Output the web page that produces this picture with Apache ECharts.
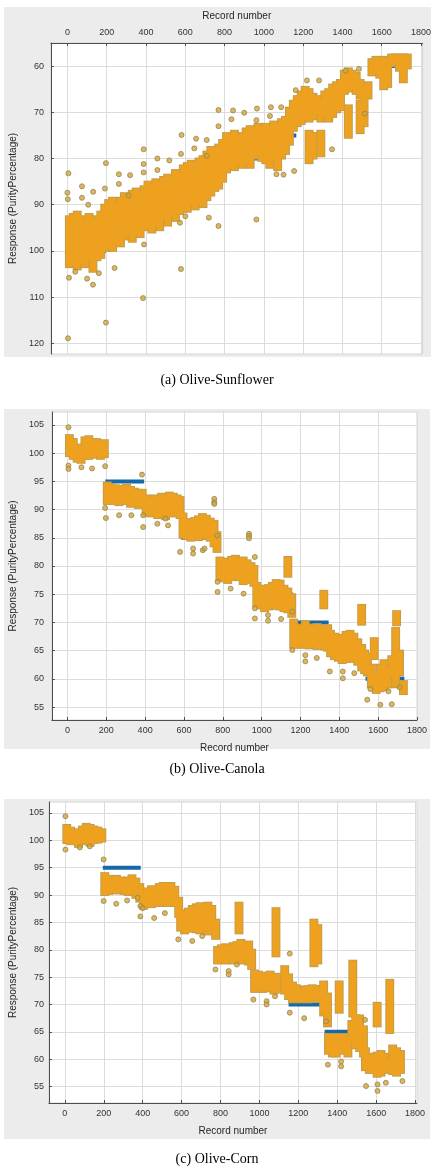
<!DOCTYPE html>
<html>
<head>
<meta charset="utf-8">
<script src="https://cdn.jsdelivr.net/npm/echarts@6/dist/echarts.min.js"></script>
<style>
  html, body { margin: 0; padding: 0; background: #ffffff; }
  #wrap { position: relative; width: 434px; height: 1172px; }
  .panel { position: absolute; background: #ececec; }
  #chart { position: absolute; left: 0; top: 0; width: 434px; height: 1172px; }
</style>
</head>
<body>
<div id="wrap">
  <div class="panel" style="left:4px;top:7px;width:427px;height:350px;"></div>
  <div class="panel" style="left:4px;top:409px;width:426px;height:340px;"></div>
  <div class="panel" style="left:4px;top:799px;width:426px;height:340px;"></div>
  <div id="chart"></div>
</div>
<script>
// ---------------- DATA ----------------
const xTicks = [0, 200, 400, 600, 800, 1000, 1200, 1400, 1600, 1800];
const yTicksA = [60, 70, 80, 90, 100, 110, 120];
const yTicksBC = [55, 60, 65, 70, 75, 80, 85, 90, 95, 100, 105];
const captions = ['(a) Olive-Sunflower', '(b) Olive-Canola', '(c) Olive-Corn'];
const xName = 'Record number';
const yName = 'Response (PurityPercentage)';

// target (blue) segments: [startRecord, endRecord, value]
const sfTarget = [[0,195,100],[195,390,95],[390,585,90],[585,780,85],[780,975,80],[975,1165,75],[1165,1345,70],[1345,1530,65],[1530,1735,60]];
const caTarget = [[0,195,100],[195,395,95],[395,585,90],[585,780,85],[780,965,80],[965,1160,75],[1160,1345,70],[1345,1535,65],[1535,1735,60]];
const coTarget = [[0,195,100],[195,390,95],[390,580,90],[580,770,85],[770,960,80],[960,1150,75],[1150,1335,70],[1335,1535,65],[1535,1735,60]];

// dense response cloud per 20-record bin: [record, low, high]
const sfBand = [
 [10,92.5,103.5],[30,92,103],[50,91.5,104],[70,92.5,102.5],[90,93,103.5],[110,92,102],[130,93,104.5],[150,92.5,102],[170,91.5,101.5],[190,90,100],
 [210,89,99.5],[230,88.5,100],[250,90,98.5],[270,88.5,99],[290,87.5,97.5],[310,88,96.5],[330,87,98],[350,86.5,96.5],[370,87.5,97],[390,86,95.5],
 [410,85,95],[430,85.5,96],[450,84.5,94.5],[470,85,95.5],[490,84,93],[510,83.5,94.5],[530,84,92.5],[550,82.5,93.5],[570,83,92],[590,81.5,91.5],
 [610,81,91.5],[630,80.5,90],[650,81,91],[670,80,89.5],[690,79.5,90.5],[710,78.5,89],[730,77.5,88],[750,78,87],[770,77,86.5],[790,76,85],
 [810,74.5,83],[830,75,82],[850,74,82.5],[870,75,81.5],[890,74.5,82],[910,73.5,81],[930,73,82],[950,73.5,80],[970,72.5,79.5],[990,73,80.5],
 [1010,72.5,81],[1030,73,82],[1050,72,80.5],[1070,72.5,82.5],[1090,71.5,80],[1110,71,79],[1130,69,77],[1150,67.5,74],[1170,66.5,73],[1190,65.5,72.5],
 [1210,64.5,71.5],[1230,65,72],[1230,74,81],[1250,66,71.5],[1250,74.5,80],[1270,66.5,70.5],[1290,67,72],[1290,74,79.5],[1310,65.5,71],[1330,65,72],[1350,64,71],[1370,63.5,70],[1390,63,69.5],
 [1410,61,66],[1430,60.5,65.5],[1430,68.5,75.5],[1450,61,65],[1470,61.5,66],[1490,63,67],[1490,67.5,74.5],[1510,64,73],[1530,63.5,67],
 [1550,58.5,62],[1570,58,61.5],[1590,58.5,62.5],[1610,58,65],[1630,58.5,64.5],[1650,57.5,60],[1670,57.5,59.5],[1690,57.5,61],[1710,57.5,63.5],[1730,57.5,60.5]
];
const sfDots = [
 [3,118.9],[196,115.5],[385,110.2],[578,103.9],[962,93.2],[5,83.2],[0,87.4],[2,88.8],[74,86],[74,88.5],[131,87.2],[196,81],[191,86.5],[106,90],
 [8,105.8],[130,107.3],[100,106],[240,103.7],[262,83.4],[319,83.6],[388,78],[388,81.2],[388,83],[262,85.5],[311,88],[458,80],[519,80.4],[458,82.5],
 [581,74.9],[578,79],[573,93.9],[655,75.7],[709,76],[646,77.8],[709,79.4],[769,94.6],[769,69.5],[843,69.6],[900,70.1],[965,69.2],[962,71.7],[835,71.5],
 [769,73],[1036,68.9],[1088,68.9],[1031,70.8],[1162,65.2],[1219,63.1],[1281,63.1],[1347,78],[1416,61],[1484,60.6],[1514,70.3],[1064,83.4],[1154,82.7],
 [390,98.6],[600,92.5],[720,92.8],[1100,83.5],[40,104.5],[160,104.8]
];

const caBand = [
 [10,99.5,103.2],[30,99,102.5],[50,98.5,101.5],[70,98.3,101.5],[90,99,102.8],[110,99,103],[130,99.2,102.5],[150,99.5,102.5],[170,99,102],[190,99.3,102.3],
 [205,91,94.8],[225,91.2,94.5],[245,91,94.3],[265,90.8,94.2],[285,91.2,94.2],[305,91,94.4],[325,90.5,94],[345,90.8,93.7],[365,90.3,93.5],[385,90.5,93.5],
 [405,89,92.5],[425,88.8,92],[445,89,92.5],[465,88.5,92.2],[485,89,92.8],[505,88.3,92.3],[525,89,93],[545,88.8,92.8],[565,89,92.5],[580,88.5,92.2],
 [595,85,89.3],[615,84.8,88.3],[635,84.5,88],[655,84.7,88.5],[675,84.6,88.8],[695,85,89.2],[715,84.8,88.9],[735,84.5,88.4],[755,83.5,88],[770,82.5,86],
 [785,77.5,81.5],[805,77.3,81.3],[825,77,81],[845,77.5,81.6],[865,77.8,81.8],[885,77.5,81.3],[905,76.8,81.5],[925,77,81],[945,77.2,80.5],[960,76.5,80],
 [975,72.8,77],[995,72.5,76.5],[1015,72,76.3],[1035,72.3,76.6],[1055,72.5,77],[1075,72.4,77.5],[1095,72.3,77.4],[1115,72,76.5],[1135,71.8,76],[1135,78.1,81.6],[1155,71,75],
 [1165,65.5,70.5],[1185,65.8,69.6],[1205,65.5,69.5],[1225,65.6,70.2],[1245,65.4,69.6],[1265,65.8,69.5],[1285,65.3,69.7],[1305,65.6,69.5],[1325,65.2,69.3],[1320,72.5,75.6],[1340,65,69.5],
 [1355,64,68.5],[1375,63.5,68],[1395,63.2,67.5],[1415,62.8,67.8],[1435,63,68.3],[1455,63,68.5],[1475,63.3,68],[1495,62.5,67],[1515,61.5,66],[1515,69.6,73.1],[1530,61,65],
 [1545,60.6,64.5],[1565,58.5,62.5],[1580,63.5,67.2],[1590,57.5,61],[1610,57.8,62.5],[1630,58,63.3],[1650,58.5,62],[1670,60.5,64],[1690,58.5,69],[1695,69.5,72],[1710,60.6,65],[1730,57.3,59.6]
];
const caDots = [
 [5,104.6],[5,97.8],[5,97.2],[72,97.5],[127,97.3],[194,97.7],
 [194,90.3],[198,88.5],[266,89],[329,89],[390,89],[390,86.9],[384,96.2],
 [463,87.5],[518,87.2],[505,88.4],[580,82.5],[647,83.1],[647,82.2],[697,82.8],[706,83.1],[756,91.9],[756,91.3],[756,91],[771,85.4],
 [773,77.2],[773,75.4],[840,76],[907,75.1],[935,85.7],[935,85.3],[935,84.9],[965,81.6],
 [965,72.5],[965,70.7],[1033,71.3],[1033,70.3],[1100,70.6],[1158,71.9],
 [1158,65.1],[1225,64.2],[1225,63.1],[1284,63.7],[1351,61.3],
 [1418,61.3],[1418,60.1],[1477,61],[1544,56.3],[1611,55.4],[1670,55.5],[1653,57.8],[1710,58.5],[1560,58.2]
];

const coBand = [
 [10,99.5,102.8],[30,99.3,102.3],[50,99.5,101.8],[70,98.8,102],[90,99.5,102.5],[110,99.3,103],[130,99,102.8],[150,99.5,102.5],[170,99.6,102.3],[190,99.8,102],
 [205,90,94],[225,90.2,93.5],[245,90.5,93.3],[265,90.3,93.5],[285,90.5,93.2],[305,90.2,93],[325,90,93.2],[345,90.5,93.6],[365,89.5,93],[385,88.8,92],
 [405,87.5,91],[425,88,91.2],[445,87.8,91.6],[465,88.2,91.5],[485,88,92],[505,88.3,92.2],[525,88,92],[545,88.5,92.2],[565,88,91.5],[585,86,89.5],
 [595,83.5,87.2],[615,83,87],[635,83.3,87.5],[655,83.5,88],[675,83.2,88.3],[695,83,88.5],[715,83.5,88.3],[735,82.8,88.6],[755,83,88],[775,82,85.5],
 [785,77.5,80.5],[805,77.7,80.8],[825,77.5,81],[845,78,80.7],[865,77.5,81.2],[885,77.8,81.4],[895,83,88.6],[905,77.5,81.8],[925,78,81.3],[945,77.3,81.5],[960,76.5,80],
 [975,72.3,76.2],[995,72.5,76],[1015,72.3,75.7],[1035,72.4,75.8],[1055,72.5,76],[1075,72,75.5],[1085,78.8,87.6],[1090,72.2,75.6],
 [1130,72,77],[1150,71,75.5],[1170,70.4,74],[1190,70.5,73.5],[1210,70.4,72.8],[1230,70.5,73.3],[1250,70.4,73.3],[1270,70.6,73.5],[1280,77,85.5],[1290,70.5,73.4],[1300,77.5,84.5],[1310,70.5,73],[1330,68,74.2],[1350,66,72],
 [1355,61,64.6],[1375,60.5,64.5],[1395,60.5,64.6],[1410,68.5,74.2],[1415,61,64.5],[1435,61.3,64.6],[1455,60.5,64],[1475,63,67],[1480,67.8,78],[1495,62,68],[1515,61.5,68],[1535,60.5,66],
 [1545,58,62],[1565,57.5,61],[1585,57.5,60.8],[1605,56.8,61.2],[1605,66,70.3],[1625,57,61.5],[1645,57.8,61],[1665,57.5,60],[1670,64.8,74.5],[1685,57.3,62.5],[1705,57,62],[1725,57.5,61.5]
];
const coDots = [
 [3,104.4],[3,98.3],[77,98.7],[128,98.9],
 [199,96.5],[199,88.9],[264,88.4],[320,89],[374,89.5],[388,88],[388,86.1],
 [400,87.6],[459,85.8],[514,86.7],
 [583,81.9],[655,81.6],[706,82.5],
 [774,76.4],[842,76.1],[842,75.5],[884,77.3],
 [969,70.9],[1037,70.6],[1037,70],[1080,71.5],[1156,79.3],
 [1156,68.5],[1230,67.5],[1343,66.9],
 [1352,59],[1420,59.6],[1420,58.7],[1543,67.2],
 [1548,55.1],[1607,55.4],[1607,54.2],[1650,55.7],[1735,56]
];

// ---------------- HELPERS ----------------
const BIN = 20;
const ORANGE = '#EEA11F';
const EDGE = '#C29D4C';
const BLUE = '#1569A8';
const FONT = 'Liberation Sans';

function targetLine(segs) {
  const out = [];
  segs.forEach(s => { out.push([s[0], s[2]], [s[1], s[2]], [s[1], '-']); });
  return out;
}
function bandRender(pad, fill) {
  return function (params, api) {
    const x = api.value(0), lo = api.value(1), hi = api.value(2);
    const a = api.coord([x, lo]), b = api.coord([x, hi]);
    const w = api.size([BIN, 0])[0] + 3;
    const top = Math.min(a[1], b[1]), h = Math.abs(a[1] - b[1]);
    return {
      type: 'rect',
      shape: { x: a[0] - w / 2 - pad, y: top - pad, width: w + 2 * pad, height: h + 2 * pad },
      style: { fill: fill }
    };
  };
}
const plain = v => String(v);

const grids = [
  { left: 40, top: 43, width: 385, height: 311 },
  { left: 42, top: 412, width: 375, height: 308 },
  { left: 46, top: 802, width: 371, height: 301 }
];
const xr = [[-84, 1808], [-80, 1800], [-82, 1810]];
const yr = [[55, 122.3], [52.7, 107.3], [52, 107]];
const yTickSets = [yTicksA, yTicksBC, yTicksBC];
const yGaps = [[7, 27], [8, 28], [5, 26]];

const xAxes = [], yAxes = [];
for (let i = 0; i < 3; i++) {
  xAxes.push({
    type: 'value', gridIndex: i, min: xr[i][0], max: xr[i][1],
    position: i === 0 ? 'top' : 'bottom',
    name: xName, nameLocation: 'middle', nameGap: i === 0 ? 22 : 23,
    nameTextStyle: { fontFamily: FONT, fontSize: 10, color: '#262626' },
    axisLine: { show: true, onZero: false, lineStyle: { color: '#4d4d4d', width: 1 } },
    axisTick: { show: true, inside: true, length: 3, customValues: xTicks, lineStyle: { color: '#4d4d4d' } },
    axisLabel: { customValues: xTicks, formatter: plain, fontFamily: FONT, fontSize: 9, color: '#333', margin: 6 },
    splitLine: { show: true, lineStyle: { color: '#dcdcdc', width: 1 } }
  });
  yAxes.push({
    type: 'value', gridIndex: i, min: yr[i][0], max: yr[i][1], inverse: i === 0,
    name: yName, nameLocation: 'middle', nameGap: yGaps[i][1], nameRotate: 90,
    nameTextStyle: { fontFamily: FONT, fontSize: 10, color: '#262626' },
    axisLine: { show: true, onZero: false, lineStyle: { color: '#4d4d4d', width: 1 } },
    axisTick: { show: true, inside: true, length: 3, customValues: yTickSets[i], lineStyle: { color: '#4d4d4d' } },
    axisLabel: { customValues: yTickSets[i], formatter: plain, fontFamily: FONT, fontSize: 9, color: '#333', margin: yGaps[i][0] },
    splitLine: { show: true, lineStyle: { color: '#dcdcdc', width: 1 } }
  });
}

const sets = [[sfTarget, sfBand, sfDots], [caTarget, caBand, caDots], [coTarget, coBand, coDots]];
const series = [];
sets.forEach((s, i) => {
  series.push({
    type: 'line', xAxisIndex: i, yAxisIndex: i, data: targetLine(s[0]), showSymbol: false,
    lineStyle: { color: BLUE, width: 4 }, connectNulls: false, z: 2
  });
  series.push({
    type: 'custom', xAxisIndex: i, yAxisIndex: i, data: s[1], renderItem: bandRender(1, EDGE),
    encode: { x: 0, y: [1, 2] }, clip: true, z: 3
  });
  series.push({
    type: 'custom', xAxisIndex: i, yAxisIndex: i, data: s[1], renderItem: bandRender(0, ORANGE),
    encode: { x: 0, y: [1, 2] }, clip: true, z: 4
  });
  series.push({
    type: 'scatter', xAxisIndex: i, yAxisIndex: i, data: s[2], symbol: 'circle', symbolSize: 5,
    itemStyle: { color: '#D9A232', borderColor: '#8E8757', borderWidth: 1 }, z: 5
  });
});

const capTops = [373, 762, 1152];
const chart = echarts.init(document.getElementById('chart'), null, { renderer: 'canvas' });
chart.setOption({
  animation: false,
  backgroundColor: 'transparent',
  title: captions.map((t, i) => ({
    text: t, left: 'center', top: capTops[i], padding: 0,
    textStyle: { fontFamily: 'Liberation Serif', fontSize: 14, fontWeight: 'normal', color: '#000' }
  })),
  grid: grids.map(g => Object.assign({ show: true, backgroundColor: '#ffffff', borderColor: '#d6d6d6', borderWidth: 1 }, g)),
  xAxis: xAxes,
  yAxis: yAxes,
  series: series
});
</script>
</body>
</html>
